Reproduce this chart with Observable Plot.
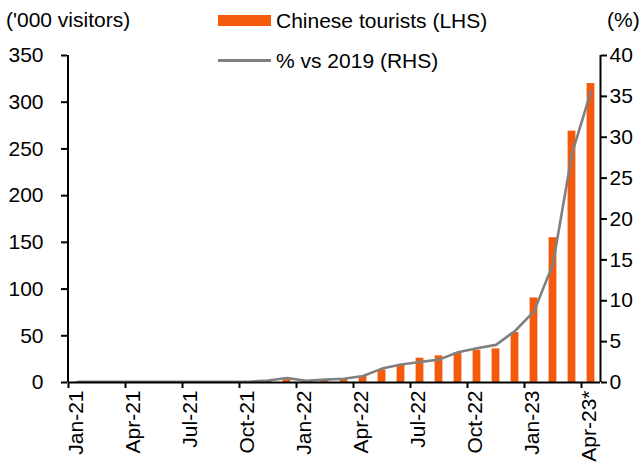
<!DOCTYPE html>
<html>
<head>
<meta charset="utf-8">
<script src="https://cdn.jsdelivr.net/npm/d3@7"></script>
<script src="https://cdn.jsdelivr.net/npm/@observablehq/plot@0.6"></script>
<style>
  html, body { margin: 0; padding: 0; background: #fff; }
  #wrap { position: relative; width: 642px; height: 465px; font-family: "Liberation Sans", Arial, sans-serif; color: #000; }
  .lbl { position: absolute; font-size: 21px; line-height: 21px; white-space: nowrap; }
  .sw { position: absolute; }
</style>
</head>
<body>
<div id="wrap">
  <div class="lbl" style="left:6px; top:9px;">('000 visitors)</div>
  <div class="lbl" style="left:607px; top:9px;">(%)</div>
  <div class="sw" style="left:218px; top:15px; width:53px; height:11px; background:#f4590c;"></div>
  <div class="lbl" style="left:276px; top:10px;">Chinese tourists (LHS)</div>
  <div class="sw" style="left:218px; top:59px; width:53px; height:3px; background:#808080;"></div>
  <div class="lbl" style="left:276px; top:50px;">% vs 2019 (RHS)</div>
</div>
<script>
const months = ["Jan-21","Feb-21","Mar-21","Apr-21","May-21","Jun-21","Jul-21","Aug-21","Sep-21","Oct-21","Nov-21","Dec-21",
  "Jan-22","Feb-22","Mar-22","Apr-22","May-22","Jun-22","Jul-22","Aug-22","Sep-22","Oct-22","Nov-22","Dec-22",
  "Jan-23","Feb-23","Mar-23","Apr-23*"];
const tourists = [0.5,0.4,0.5,0.5,0.5,0.5,0.6,0.6,0.6,0.7,1.5,3,1,2,3,6.5,13.5,19,26,28.5,32,34.5,36,53.5,90.5,155,269,320];
const pctVs2019 = [0.1,0.1,0.1,0.1,0.1,0.1,0.1,0.1,0.1,0.1,0.25,0.55,0.2,0.35,0.45,0.8,1.7,2.2,2.5,2.8,3.7,4.2,4.6,6.3,8.7,14.5,28,35.6];
const leftTicks = [0,50,100,150,200,250,300,350];
const rightTicks = [0,5,10,15,20,25,30,35,40];
const xTickIdx = [0,3,6,9,12,15,18,21,24,27];

const k = 350 / 40;
const data = months.map((m, i) => ({i, m, v: tourists[i], p: pctVs2019[i]}));

const chart = Plot.plot({
  width: 642,
  height: 465,
  marginLeft: 68,
  marginRight: 42,
  marginTop: 55,
  marginBottom: 83,
  style: {fontFamily: "'Liberation Sans', Arial, sans-serif", fontSize: "21px", background: "transparent", color: "#000", overflow: "visible"},
  x: {domain: [0, 28]},
  y: {domain: [0, 350]},
  marks: [
    Plot.rectY(data, {x1: d => d.i, x2: d => d.i + 1, y1: 0, y2: "v", fill: "#f4590c", insetLeft: 5.6, insetRight: 5.6}),
    Plot.line(data, {x: d => d.i + 0.5, y: d => d.p * k, stroke: "#808080", strokeWidth: 2.6}),
    Plot.ruleX([0], {stroke: "#000", strokeWidth: 2, dx: -0.5}),
    Plot.ruleX([28], {stroke: "#000", strokeWidth: 2}),
    Plot.ruleY([0], {stroke: "#000", strokeWidth: 2}),
    Plot.axisY(leftTicks, {anchor: "left", tickSize: 6, tickPadding: 18, strokeWidth: 2, label: null, dx: -1}),
    Plot.axisY(rightTicks.map(t => t * k), {anchor: "right", tickSize: 6, tickPadding: 3, strokeWidth: 2, tickFormat: d => String(Math.round(d / k)), label: null}),
    Plot.axisX(xTickIdx, {anchor: "bottom", tickSize: 6, strokeWidth: 2, text: null, label: null}),
    Plot.axisX(xTickIdx, {anchor: "bottom", tickSize: 0, tickPadding: 8, tickRotate: -90, tickFormat: i => months[i], label: null, dx: 8})
  ]
});
document.getElementById("wrap").prepend(chart);
chart.style.position = "absolute";
chart.style.left = "0px";
chart.style.top = "0px";
</script>
</body>
</html>
